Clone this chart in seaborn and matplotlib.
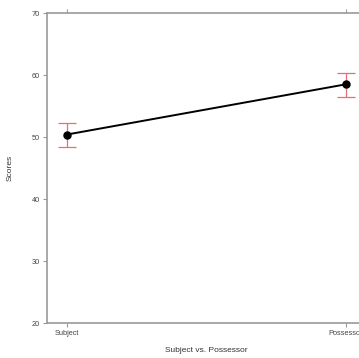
import matplotlib
matplotlib.use("Agg")
import matplotlib.pyplot as plt
import seaborn as sns
import pandas as pd

# Mean scores with lower/upper error bounds
conditions = ["Subject", "Possessor"]
means = [50.4, 58.5]
lower = [48.4, 56.5]
upper = [52.3, 60.3]
y_ticks = [20, 30, 40, 50, 60, 70]

df = pd.DataFrame({"condition": conditions, "score": means})

sns.set_style("white")
plt.rcParams["font.family"] = ["Liberation Sans", "DejaVu Sans"]

fig = plt.figure(figsize=(3.59, 3.58), dpi=100)
ax = fig.add_axes([47 / 359, 35 / 358, 319 / 359, 310 / 358])

pos = list(range(len(conditions)))
err_lo = [m - l for m, l in zip(means, lower)]
err_hi = [u - m for m, u in zip(means, upper)]
ax.errorbar(pos, means, yerr=[err_lo, err_hi], fmt="none", ecolor="#ee6a78",
            elinewidth=0.9, capsize=6.5, capthick=0.9, zorder=2)

sns.pointplot(data=df, x="condition", y="score", errorbar=None, color="black",
              markers="o", markersize=5, linewidth=1.4, ax=ax, zorder=3)

ax.set_xlim(-0.0717, 1.0717)
ax.set_ylim(20, 70)
ax.set_yticks(y_ticks)
ax.set_yticklabels([str(t) for t in y_ticks])
ax.set_xticks(pos)
ax.set_xticklabels(conditions)

for side, sp in ax.spines.items():
    sp.set_visible(True)
    sp.set_color("#9a9a9a")
    sp.set_linewidth(1.2)

ax.tick_params(axis="both", which="both", length=3, width=0.8, color="#9a9a9a",
               labelsize=5.3, labelcolor="#444444", pad=2, direction="out")
ax.tick_params(axis="x", top=True, bottom=True)
ax.tick_params(axis="y", left=True, right=True)

ax.set_xlabel("Subject vs. Possessor", fontsize=6, color="#333333", labelpad=7)
ax.set_ylabel("Scores", fontsize=6, color="#333333", labelpad=13)

fig.savefig("out.png", dpi=100)
